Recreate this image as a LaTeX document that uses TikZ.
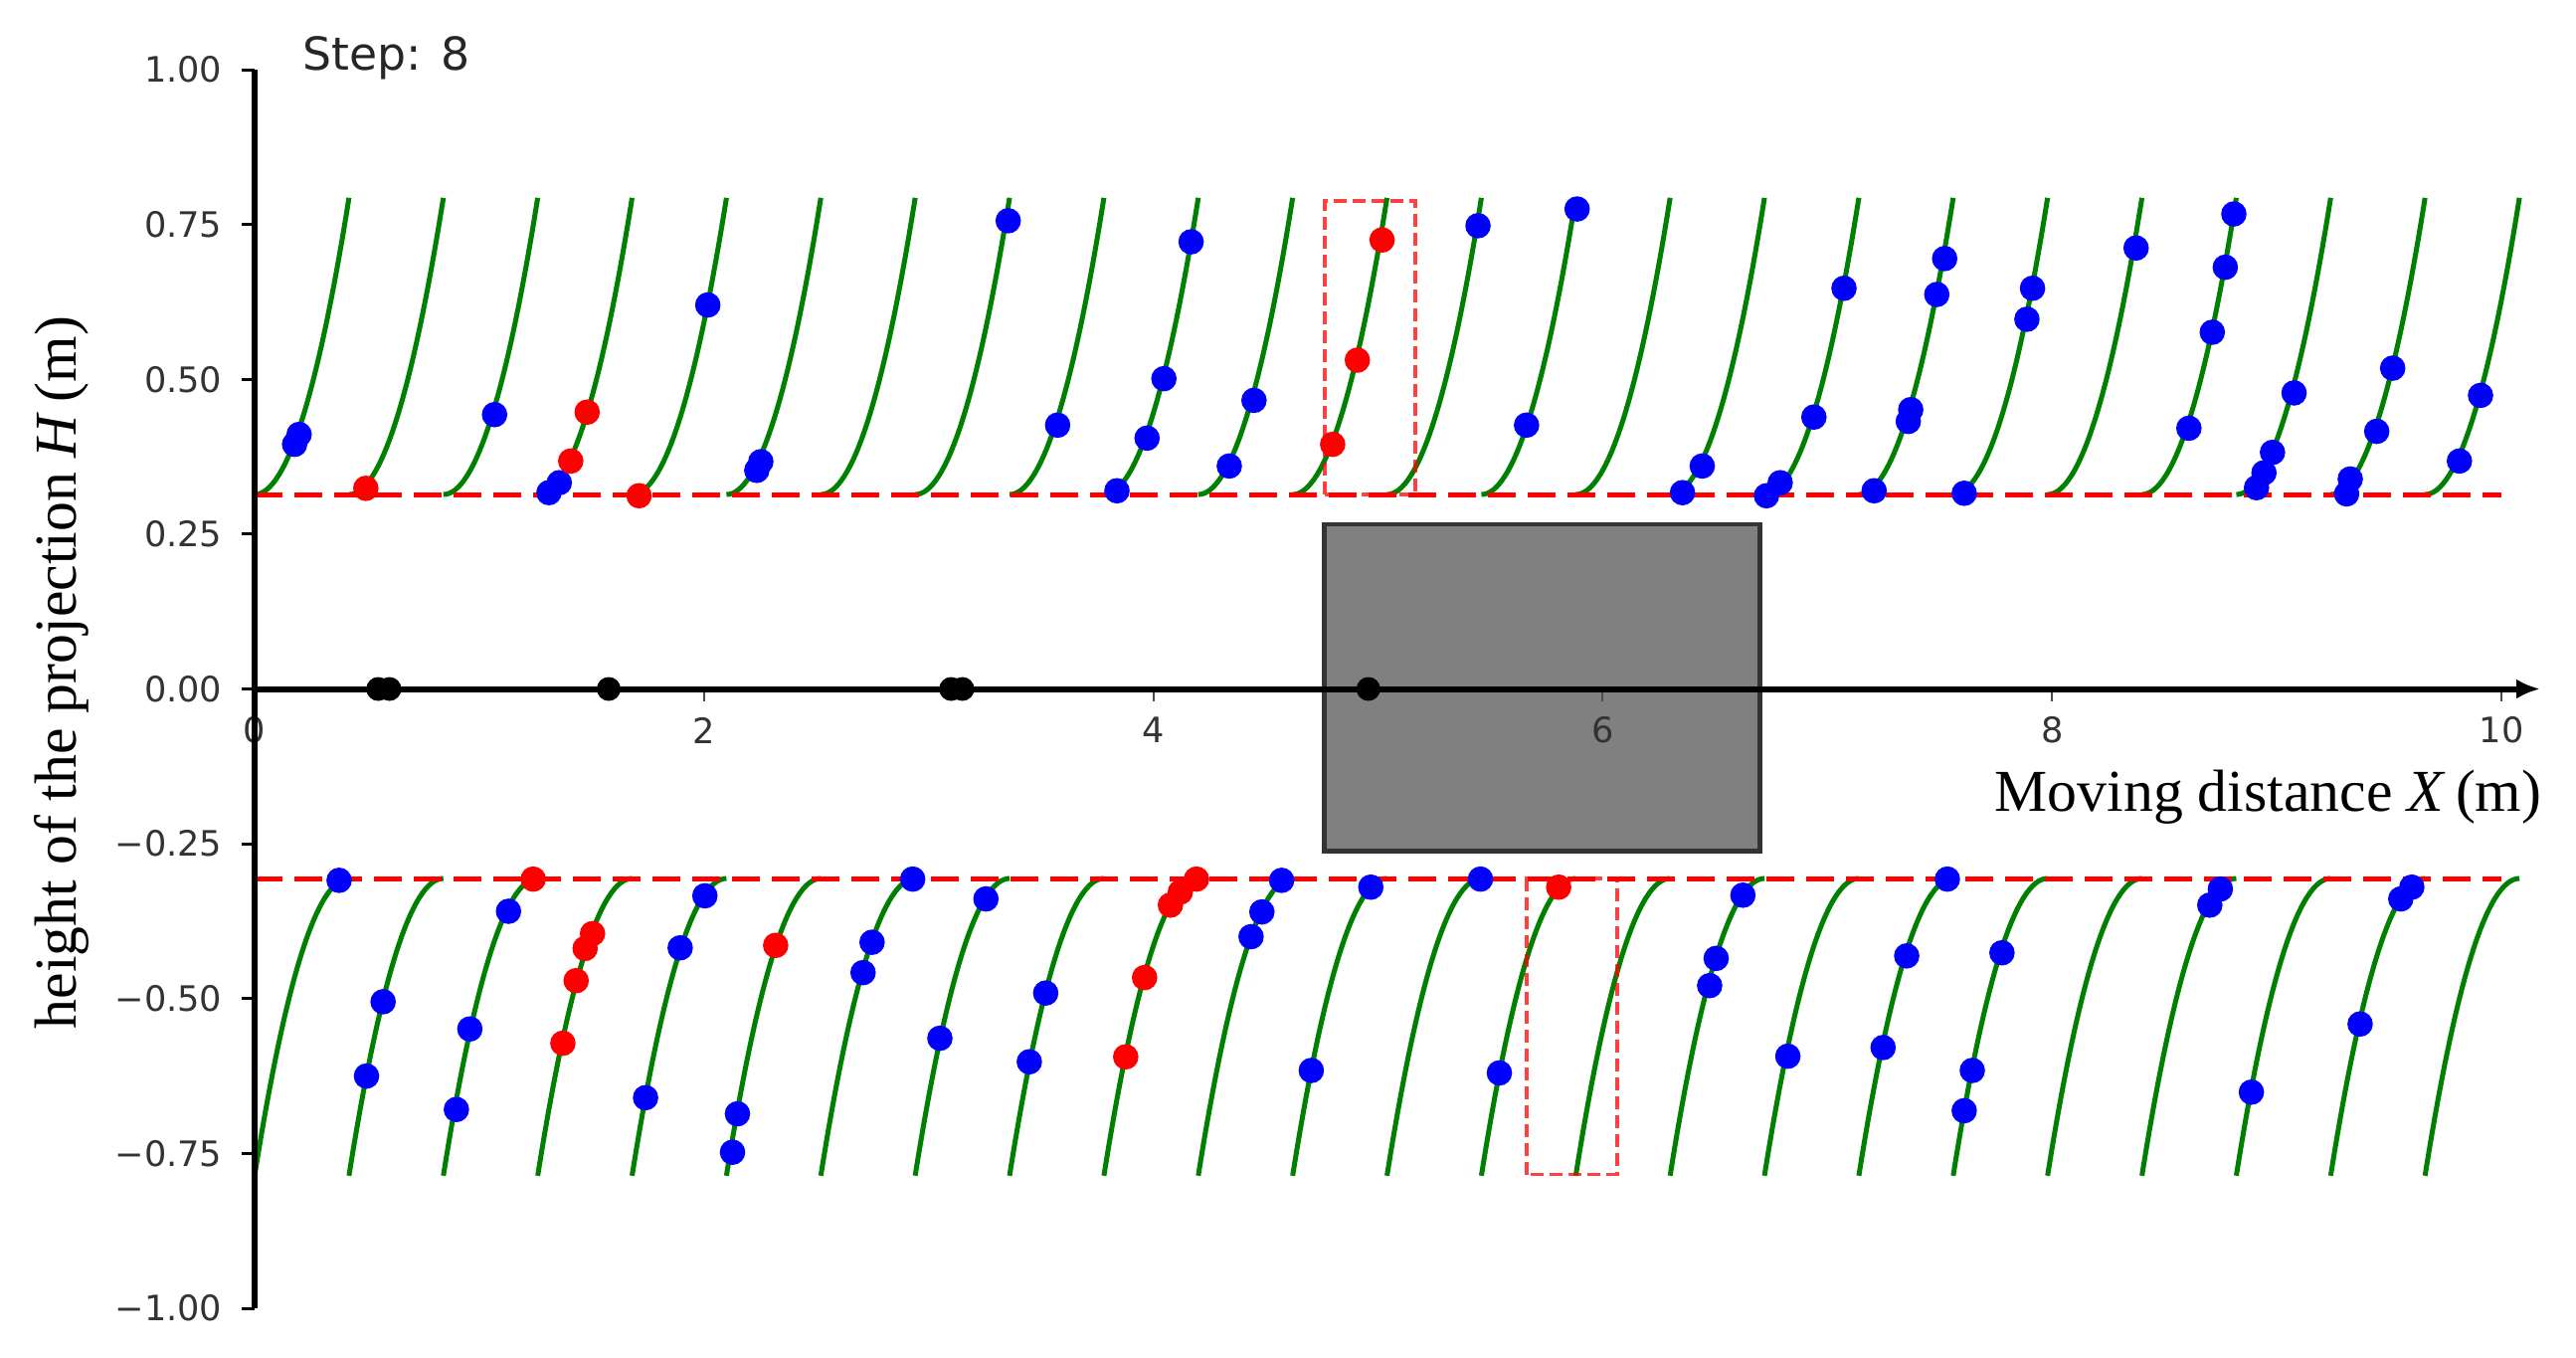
\documentclass[tikz,border=0pt]{standalone}
\usepackage{fontspec}
\setmainfont{Liberation Serif}
\newfontfamily\djv{DejaVu Sans}
\usetikzlibrary{arrows.meta}
\begin{document}
\begin{tikzpicture}[x=2.259cm,y=6.225cm,
  tcurve/.style={green!50!black, line width=0.05cm},
  thr/.style={red, line width=0.05cm, dash pattern=on 0.28cm off 0.12cm},
  roibox/.style={red, opacity=0.75, line width=0.035cm, dash pattern=on 0.13cm off 0.06cm},
  ticklab/.style={font=\djv\fontsize{10}{12}\selectfont, text=black!80, inner sep=0pt},
  axlab/.style={font=\fontsize{17}{20}\selectfont, inner sep=0pt},
  bdot/.style={fill=blue},
  rdot/.style={fill=red},
  kdot/.style={fill=black},
]
\useasboundingbox (-2.56cm,-6.715cm) rectangle (23.34cm,6.925cm);

% moving object
\filldraw[fill=black!50, draw=black!80, line width=0.045cm] (4.76,-0.262) rectangle (6.70,0.266);

% trajectories
\foreach \i in {0,...,23}{
  \pgfmathsetmacro\xa{\i*0.42}
  \pgfmathsetmacro\xb{\xa+0.14}
  \pgfmathsetmacro\xc{\xa+0.28}
  \pgfmathsetmacro\xd{\xa+0.42}
  \draw[tcurve] (\xa,0.314) .. controls (\xb,0.314) and (\xc,0.4737) .. (\xd,0.793);
  \draw[tcurve] (\xa,-0.786) .. controls (\xb,-0.466) and (\xc,-0.306) .. (\xd,-0.306);
}

% thresholds
\coordinate (ta) at (0,0.314);  \coordinate (tb) at (10,0.314);
\coordinate (ba) at (0,-0.306); \coordinate (bb) at (10,-0.306);
\draw[thr] (ta) -- (tb);
\draw[thr] (ba) -- (bb);

% highlighted boxes
\draw[roibox] (4.763,0.314) rectangle (5.166,0.788);
\draw[roibox] (5.661,-0.784) rectangle (6.064,-0.306);

% x ticks and labels
\foreach \v in {0,2,4,6,8,10}{
  \draw[line width=0.02cm, black!70] (\v,0) -- ++(0pt,-0.12cm);
  \node[ticklab] (xt\v) at ([yshift=-0.415cm]\v,0) {\v};
}
% y ticks and labels
\foreach \v/\t in {1/1.00,0.75/0.75,0.5/0.50,0.25/0.25,0/0.00,-0.25/−0.25,-0.5/−0.50,-0.75/−0.75,-1/−1.00}{
  \draw[line width=0.03cm] (0,\v) -- ++(-0.13cm,0pt);
  \node[ticklab, anchor=east] at ([xshift=-0.32cm]0,\v) {\t};
}

% axes
\coordinate (O) at (0,0);
\coordinate (xend) at (22.98cm,0cm);
\coordinate (ytop) at (0,1);
\coordinate (ybot) at (0,-1);
\draw[line width=0.06cm, -{Latex[length=0.24cm,width=0.2cm]}] (O) -- (xend);
\draw[line width=0.065cm] (ybot) -- (ytop);

% points
\foreach \p in {(0.178,0.395),(0.198,0.411),(1.068,0.443),(1.310,0.317),(1.356,0.333),(2.017,0.620),(2.235,0.353),(2.253,0.367),(3.354,0.756),(3.574,0.426),(4.168,0.722),(4.047,0.501),(3.972,0.405),(3.838,0.320),(4.448,0.466),(4.338,0.360),(5.445,0.748),(5.886,0.775),(5.661,0.426),(6.443,0.360),(6.355,0.317),(6.729,0.312),(6.790,0.333),(7.074,0.647),(6.940,0.439),(7.522,0.695),(7.487,0.637),(7.360,0.432),(7.371,0.451),(7.208,0.320),(7.913,0.647),(7.888,0.597),(7.609,0.316),(8.374,0.712),(8.809,0.767),(8.771,0.681),(8.713,0.576),(8.609,0.421),(9.077,0.478),(8.981,0.382),(8.910,0.325),(8.943,0.349),(9.516,0.518),(9.445,0.416),(9.311,0.315),(9.327,0.339),(9.907,0.474),(9.813,0.368),
(0.376,-0.309),(0.572,-0.505),(0.498,-0.625),(1.130,-0.359),(0.958,-0.549),(0.898,-0.679),(2.004,-0.334),(1.894,-0.418),(1.740,-0.660),(2.149,-0.686),(2.127,-0.748),(2.929,-0.307),(2.748,-0.409),(2.708,-0.458),(3.255,-0.339),(3.050,-0.564),(3.448,-0.602),(3.521,-0.491),(4.571,-0.309),(4.483,-0.360),(4.435,-0.400),(4.968,-0.320),(4.703,-0.616),(5.456,-0.307),(5.540,-0.620),(6.624,-0.333),(6.505,-0.435),(6.476,-0.479),(6.824,-0.593),(7.534,-0.307),(7.353,-0.431),(7.248,-0.579),(7.777,-0.426),(7.645,-0.616),(7.609,-0.681),(8.749,-0.323),(8.702,-0.349),(8.887,-0.651),(9.601,-0.320),(9.552,-0.339),(9.371,-0.541)}
  \fill[bdot] \p circle[radius=0.128cm];
\foreach \p in {(0.495,0.324),(1.480,0.447),(1.407,0.368),(1.711,0.312),(5.018,0.725),(4.908,0.531),(4.798,0.395),
(1.240,-0.307),(1.471,-0.419),(1.504,-0.395),(1.431,-0.471),(1.372,-0.572),(2.319,-0.414),(4.192,-0.307),(4.076,-0.349),(4.120,-0.328),(3.961,-0.466),(3.877,-0.594),(5.804,-0.320)}
  \fill[rdot] \p circle[radius=0.128cm];
\foreach \p in {(0.55,0),(0.60,0),(1.576,0),(3.10,0),(3.15,0),(4.957,0)}
  \fill[kdot] \p circle[radius=0.12cm];

% texts
\node[axlab, rotate=90, anchor=base] (ylab) at (-1.79cm,0.165cm) {height of the projection \textit{H}\,(m)};
\node[axlab, anchor=base east] (xlab) at (23.00cm,-1.225cm) {Moving distance \textit{X}\,(m)};
\node[font=\djv\fontsize{13}{15}\selectfont, anchor=base west, inner sep=0pt, text=black!85] (step) at (0.48cm,6.225cm) {Step: 8};
\end{tikzpicture}
\end{document}
